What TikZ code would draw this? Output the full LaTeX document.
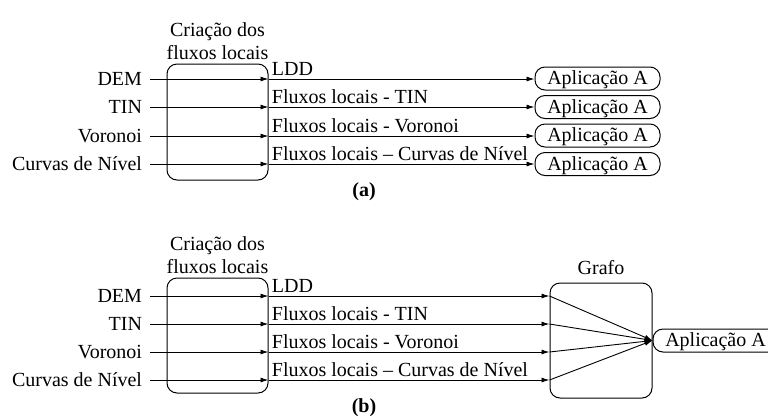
\documentclass[tikz,border=0pt]{standalone}
\usepackage{fontspec}
\setmainfont{Liberation Serif}
\usetikzlibrary{arrows.meta,positioning}

\begin{document}
\begin{tikzpicture}[
		x=1pt, y=-1pt,
		font=\fontsize{20}{23}\selectfont,
		arrow/.style={-{Latex[length=8pt,width=5pt]}, line width=0.9pt},
		block/.style={draw, line width=1pt, rounded corners=10pt, minimum width=101pt, minimum height=116pt},
		app/.style={draw, line width=1pt, rounded corners=10pt, minimum width=125pt, minimum height=23pt, inner sep=0pt, text height=12pt, text depth=0pt},
		src/.style={anchor=east, inner sep=0pt, outer xsep=8pt, text height=13pt, text depth=0pt},
		flow/.style={anchor=south west, pos=0, inner xsep=3pt, inner ysep=3pt, text depth=0pt},
		caption/.style={align=center, inner sep=0pt},
	]
		\clip (0,0) rectangle (768,416);
		% (a)
		\node (criaA) [block] at (217.5,122) {};
		\node [caption, above=4pt of criaA] {Criação dos\\fluxos locais};
		\node (demA) [src] at (150,79) {DEM};
		\node (tinA) [src] at (150,107) {TIN};
		\node (vorA) [src] at (150,136) {Voronoi};
		\node (curA) [src] at (150,164) {Curvas de Nível};
		\node (appA1) [app] at (597.5,78.5) {Aplicação A};
		\node (appA2) [app] at (597.5,107) {Aplicação A};
		\node (appA3) [app] at (597.5,135.5) {Aplicação A};
		\node (appA4) [app] at (597.5,164) {Aplicação A};
		\draw[arrow] (demA.east) -- (demA -| criaA.east);
		\draw[arrow] (tinA.east) -- (tinA -| criaA.east);
		\draw[arrow] (vorA.east) -- (vorA -| criaA.east);
		\draw[arrow] (curA.east) -- (curA -| criaA.east);
		\draw[arrow] (demA -| criaA.east) -- node[flow] {LDD} (demA -| appA1.west);
		\draw[arrow] (tinA -| criaA.east) -- node[flow] {Fluxos locais - TIN} (tinA -| appA2.west);
		\draw[arrow] (vorA -| criaA.east) -- node[flow] {Fluxos locais - Voronoi} (vorA -| appA3.west);
		\draw[arrow] (curA -| criaA.east) -- node[flow] {Fluxos locais -- Curvas de Nível} (curA -| appA4.west);
		\node (capA) [font=\fontsize{20}{23}\selectfont\bfseries] at (364,192) {(a)};

		% (b)
		\node (criaB) [block, minimum height=115pt] at (217.5,335.5) {};
		\node [caption, above=4pt of criaB] {Criação dos\\fluxos locais};
		\node (grafo) [block, minimum width=102pt, minimum height=115pt] at (601,340.5) {};
		\node [caption, above=8pt of grafo] {Grafo};
		\node (demB) [src] at (150,296) {DEM};
		\node (tinB) [src] at (150,324) {TIN};
		\node (vorB) [src] at (150,352) {Voronoi};
		\node (curB) [src] at (150,380) {Curvas de Nível};
		\node (appB) [app, anchor=west] at (grafo.east) {Aplicação A};
		\draw[arrow] (demB.east) -- (demB -| criaB.east);
		\draw[arrow] (tinB.east) -- (tinB -| criaB.east);
		\draw[arrow] (vorB.east) -- (vorB -| criaB.east);
		\draw[arrow] (curB.east) -- (curB -| criaB.east);
		\draw[arrow] (demB -| criaB.east) -- node[flow] {LDD} (demB -| grafo.west);
		\draw[arrow] (tinB -| criaB.east) -- node[flow] {Fluxos locais - TIN} (tinB -| grafo.west);
		\draw[arrow] (vorB -| criaB.east) -- node[flow] {Fluxos locais - Voronoi} (vorB -| grafo.west);
		\draw[arrow] (curB -| criaB.east) -- node[flow] {Fluxos locais -- Curvas de Nível} (curB -| grafo.west);
		\draw[arrow] (demB -| grafo.west) -- (appB.west);
		\draw[arrow] (tinB -| grafo.west) -- (appB.west);
		\draw[arrow] (vorB -| grafo.west) -- (appB.west);
		\draw[arrow] (curB -| grafo.west) -- (appB.west);
		\node (capB) [font=\fontsize{20}{23}\selectfont\bfseries] at (364,408) {(b)};
	\end{tikzpicture}
\end{document}
